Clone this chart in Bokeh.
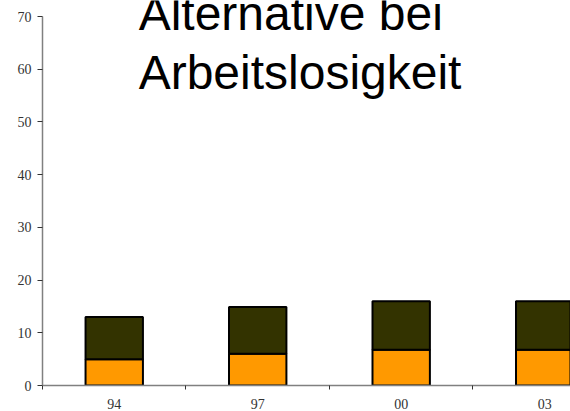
from bokeh.plotting import figure
from bokeh.models import ColumnDataSource, Range1d, FixedTicker, Label
from bokeh.embed import file_html
from bokeh.resources import INLINE

# Survey years and the two stacked shares (percent)
years = ["94", "97", "00", "03"]
lower_share = [5, 6, 6.8, 6.8]
upper_share = [8, 8.9, 9.2, 9.2]
y_ticks = [0, 10, 20, 30, 40, 50, 60, 70]

title_lines = ["Alternative bei", "Arbeitslosigkeit"]

ORANGE = "#FF9900"
OLIVE = "#333300"

pos = [i + 0.5 for i in range(len(years))]
totals = [a + b for a, b in zip(lower_share, upper_share)]
src = ColumnDataSource(dict(x=pos, low=lower_share, top=totals))

# the frame reaches the top edge so the heading is not cut; the value axis
# itself stops at 70
p = figure(width=570, height=411, output_backend="svg", toolbar_location=None,
           x_range=Range1d(0, 3.68), y_range=Range1d(0, 73.04),
           min_border_left=42, min_border_right=0, min_border_top=0,
           min_border_bottom=26)
p.outline_line_color = None
p.grid.grid_line_color = None
p.background_fill_color = "white"
p.border_fill_color = "white"

p.vbar(x="x", bottom=0, top="low", width=0.4, source=src,
       fill_color=ORANGE, line_color="black", line_width=2)
p.vbar(x="x", bottom="low", top="top", width=0.4, source=src,
       fill_color=OLIVE, line_color="black", line_width=2)

# x axis: labels centred under each bar, small ticks between categories
p.xaxis.ticker = FixedTicker(ticks=pos, minor_ticks=[0, 1, 2, 3])
p.xaxis.major_label_overrides = {x: y for x, y in zip(pos, years)}
p.xaxis.major_tick_out = 0
p.xaxis.major_tick_in = 0
p.xaxis.minor_tick_out = 4
p.xaxis.minor_tick_in = 0
p.xaxis.minor_tick_line_color = "#333333"
p.xaxis.major_label_standoff = 9

p.yaxis.ticker = FixedTicker(ticks=y_ticks)
p.yaxis.bounds = (0, 70)
p.yaxis.major_tick_out = 5
p.yaxis.major_tick_in = 0
p.yaxis.minor_tick_line_color = None
p.yaxis.major_label_standoff = 6
p.yaxis.major_tick_line_color = "#333333"

for ax in (p.xaxis, p.yaxis):
    ax.axis_line_color = "#808080"
    ax.axis_line_width = 1.5
    ax.major_label_text_font = "Liberation Serif"
    ax.major_label_text_font_size = "14px"
    ax.major_label_text_color = "#333333"

for txt, yv in zip(title_lines, [70.6, 59.4]):
    p.add_layout(Label(x=0.67, y=yv, text=txt, text_font="Liberation Sans",
                       text_font_size="48px", text_color="black",
                       text_baseline="alphabetic", text_align="left"))

open("out.html", "w").write(file_html(p, INLINE))
